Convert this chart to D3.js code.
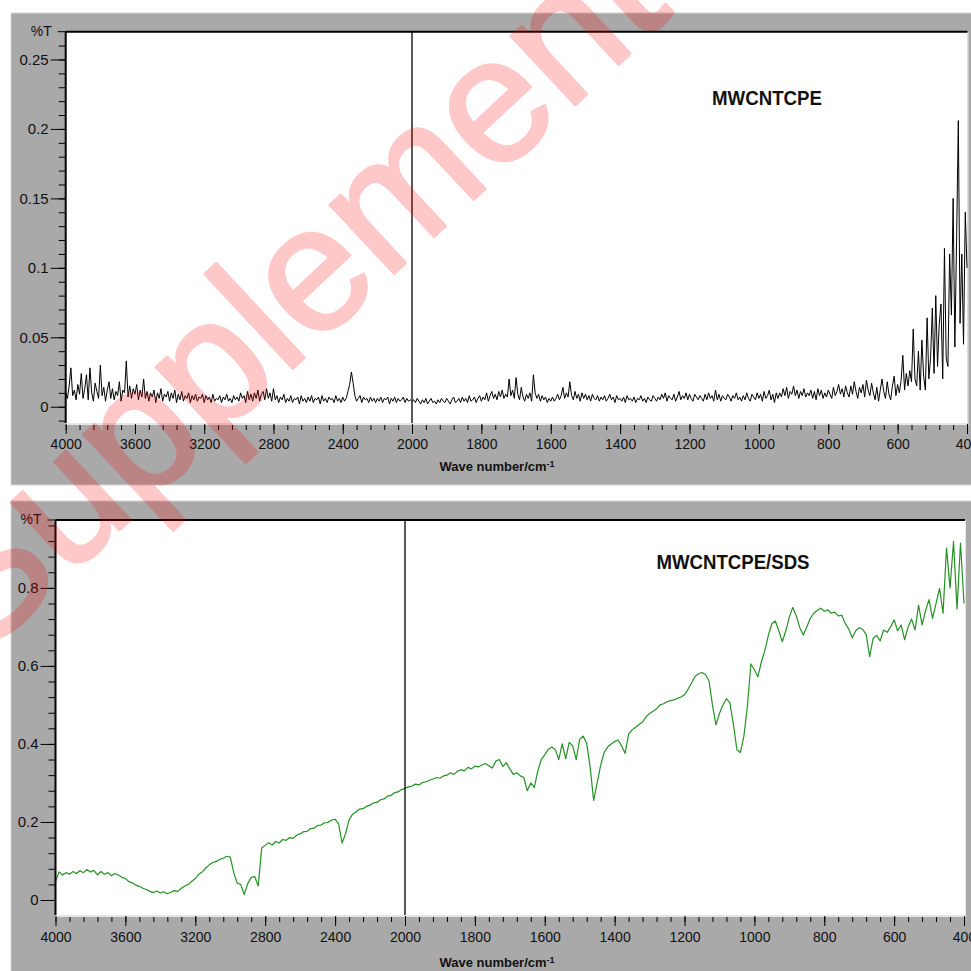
<!DOCTYPE html>
<html>
<head>
<meta charset="utf-8">
<script src="https://cdn.jsdelivr.net/npm/d3@7/dist/d3.min.js"></script>
<style>
body { margin: 0; background: #fff; }
svg { display: block; font-family: "Liberation Sans", Arial, sans-serif; }
</style>
</head>
<body>
<svg id="chart" width="971" height="971"></svg>
<script>
// sampling grids (cm-1)
var wnTopLeft = d3.range(4000, 1999, -10);   // MWCNTCPE, 4000..2000
var wnTopRight = d3.range(1995, 399, -5);    // MWCNTCPE, 1995..400
var wnLeft = d3.range(4000, 1999, -20);      // MWCNTCPE/SDS, 4000..2000
var wnRight = d3.range(1990, 399, -10);      // MWCNTCPE/SDS, 1990..400

// MWCNTCPE, %T (each row = 100 cm-1)
var cpeLeft = [
  0.010,0.006,0.015,0.028,0.008,0.012,0.005,0.016,0.009,0.024,
  0.006,0.013,0.023,0.005,0.028,0.010,0.004,0.017,0.011,0.006,
  0.030,0.008,0.014,0.004,0.012,0.018,0.006,0.013,0.005,0.011,
  0.008,0.018,0.004,0.012,0.010,0.033,0.007,0.015,0.006,0.013,
  0.009,0.016,0.005,0.012,0.007,0.020,0.006,0.011,0.004,0.010,
  0.007,0.012,0.003,0.010,0.006,0.013,0.004,0.009,0.007,0.011,
  0.004,0.010,0.006,0.012,0.003,0.009,0.005,0.011,0.004,0.008,
  0.006,0.010,0.003,0.008,0.005,0.009,0.004,0.007,0.006,0.009,
  0.003,0.008,0.005,0.007,0.003,0.009,0.004,0.006,0.005,0.008,
  0.003,0.007,0.005,0.009,0.004,0.006,0.003,0.008,0.005,0.007,
  0.004,0.010,0.006,0.008,0.003,0.011,0.005,0.009,0.004,0.010,
  0.006,0.012,0.004,0.009,0.011,0.005,0.013,0.006,0.010,0.004,
  0.013,0.005,0.008,0.003,0.007,0.005,0.009,0.003,0.006,0.004,
  0.008,0.003,0.006,0.005,0.007,0.002,0.008,0.004,0.006,0.003,
  0.007,0.004,0.008,0.003,0.006,0.005,0.007,0.002,0.008,0.004,
  0.006,0.003,0.007,0.005,0.006,0.003,0.008,0.004,0.006,0.003,
  0.007,0.004,0.006,0.011,0.016,0.025,0.017,0.008,0.004,0.006,
  0.008,0.003,0.007,0.005,0.006,0.003,0.007,0.004,0.006,0.003,
  0.006,0.004,0.007,0.003,0.006,0.005,0.007,0.002,0.006,0.004,
  0.007,0.003,0.006,0.004,0.005,0.007,0.003,0.006,0.004,0.005,
  0.004
];
// (each row = 50 cm-1)
var cpeRight = [
  0.005,0.003,0.006,0.004,0.002,0.005,0.003,0.006,0.002,0.004,
  0.006,0.003,0.004,0.002,0.005,0.003,0.006,0.004,0.003,0.006,
  0.004,0.002,0.005,0.007,0.003,0.004,0.006,0.003,0.007,0.004,
  0.006,0.003,0.008,0.004,0.005,0.007,0.003,0.006,0.008,0.004,
  0.007,0.005,0.010,0.004,0.008,0.011,0.006,0.009,0.005,0.011,
  0.007,0.012,0.006,0.009,0.007,0.020,0.008,0.012,0.006,0.021,
  0.009,0.005,0.014,0.007,0.004,0.009,0.006,0.010,0.004,0.023,
  0.010,0.006,0.009,0.004,0.008,0.005,0.007,0.003,0.006,0.004,
  0.007,0.004,0.006,0.009,0.005,0.008,0.014,0.006,0.010,0.007,
  0.018,0.008,0.005,0.011,0.006,0.009,0.004,0.010,0.006,0.009,
  0.005,0.008,0.004,0.009,0.006,0.005,0.008,0.004,0.007,0.005,
  0.008,0.004,0.006,0.009,0.005,0.007,0.003,0.008,0.005,0.006,
  0.004,0.007,0.003,0.008,0.005,0.006,0.004,0.007,0.003,0.006,
  0.005,0.008,0.004,0.006,0.003,0.007,0.005,0.004,0.008,0.006,
  0.004,0.007,0.005,0.009,0.006,0.010,0.004,0.008,0.006,0.005,
  0.009,0.004,0.007,0.011,0.005,0.008,0.006,0.010,0.005,0.009,
  0.006,0.004,0.009,0.007,0.005,0.008,0.006,0.004,0.009,0.005,
  0.010,0.006,0.008,0.004,0.012,0.005,0.009,0.004,0.008,0.006,
  0.005,0.009,0.007,0.004,0.008,0.006,0.010,0.005,0.007,0.004,
  0.008,0.005,0.010,0.006,0.004,0.009,0.007,0.005,0.010,0.006,
  0.009,0.004,0.011,0.006,0.008,0.012,0.005,0.009,0.003,0.010,
  0.006,0.010,0.007,0.013,0.008,0.014,0.006,0.011,0.009,0.015,
  0.008,0.012,0.006,0.011,0.008,0.013,0.007,0.010,0.008,0.012,
  0.006,0.011,0.005,0.013,0.008,0.012,0.006,0.010,0.007,0.012,
  0.009,0.006,0.014,0.008,0.011,0.016,0.009,0.013,0.007,0.015,
  0.010,0.007,0.015,0.009,0.018,0.011,0.006,0.014,0.010,0.016,
  0.007,0.019,0.012,0.008,0.017,0.010,0.005,0.014,0.004,0.012,
  0.020,0.011,0.006,0.018,0.009,0.005,0.015,0.022,0.008,0.016,
  0.010,0.019,0.037,0.012,0.024,0.015,0.026,0.018,0.056,0.020,
  0.015,0.040,0.012,0.048,0.022,0.012,0.064,0.020,0.035,0.071,
  0.024,0.080,0.029,0.060,0.074,0.020,0.114,0.035,0.029,0.110,
  0.066,0.150,0.043,0.120,0.206,0.060,0.110,0.045,0.140,0.100
];

// MWCNTCPE/SDS, %T (left rows = 200 cm-1, right rows = 100 cm-1)
var sdsLeft = [
  0.047,0.072,0.064,0.070,0.066,0.073,0.068,0.075,0.070,0.078,
  0.072,0.076,0.064,0.073,0.066,0.070,0.062,0.068,0.064,0.058,
  0.055,0.047,0.044,0.038,0.035,0.030,0.027,0.022,0.019,0.023,
  0.018,0.021,0.016,0.020,0.024,0.022,0.030,0.036,0.040,0.048,
  0.055,0.066,0.072,0.082,0.090,0.096,0.099,0.104,0.107,0.112,
  0.110,0.070,0.043,0.040,0.014,0.042,0.058,0.060,0.036,0.133,
  0.140,0.147,0.141,0.150,0.146,0.155,0.153,0.160,0.158,0.166,
  0.170,0.175,0.176,0.183,0.184,0.191,0.192,0.198,0.199,0.205,
  0.207,0.195,0.146,0.170,0.205,0.220,0.226,0.233,0.234,0.240,
  0.243,0.249,0.250,0.257,0.259,0.266,0.268,0.275,0.277,0.283,
  0.286
];
var sdsRight = [
  0.290,0.292,0.297,0.295,0.301,0.303,0.307,0.310,0.314,0.312,
  0.318,0.320,0.326,0.322,0.330,0.334,0.331,0.340,0.336,0.343,
  0.341,0.346,0.350,0.344,0.338,0.356,0.360,0.342,0.352,0.336,
  0.322,0.326,0.318,0.314,0.280,0.300,0.288,0.330,0.360,0.372,
  0.386,0.392,0.386,0.360,0.400,0.362,0.404,0.395,0.360,0.412,
  0.420,0.402,0.340,0.255,0.300,0.345,0.378,0.392,0.400,0.406,
  0.410,0.395,0.376,0.425,0.436,0.443,0.450,0.456,0.470,0.478,
  0.484,0.490,0.500,0.503,0.508,0.511,0.513,0.517,0.520,0.526,
  0.540,0.556,0.573,0.580,0.583,0.578,0.562,0.500,0.449,0.478,
  0.500,0.516,0.505,0.450,0.385,0.378,0.420,0.496,0.605,0.590,
  0.572,0.610,0.640,0.678,0.708,0.715,0.690,0.662,0.690,0.725,
  0.750,0.728,0.698,0.679,0.700,0.722,0.735,0.742,0.748,0.740,
  0.744,0.735,0.738,0.728,0.730,0.709,0.695,0.672,0.690,0.698,
  0.694,0.680,0.624,0.671,0.678,0.664,0.692,0.686,0.700,0.718,
  0.690,0.705,0.667,0.700,0.720,0.692,0.756,0.705,0.742,0.770,
  0.722,0.760,0.799,0.735,0.902,0.800,0.919,0.746,0.915,0.760
];

var xTickLabels = [4000, 3600, 3200, 2800, 2400, 2000, 1800, 1600, 1400, 1200, 1000, 800, 600, 400];
var topYTicks = [0, 0.05, 0.1, 0.15, 0.2, 0.25];
var bottomYTicks = [0, 0.2, 0.4, 0.6, 0.8];
var sampleNames = ["MWCNTCPE", "MWCNTCPE/SDS"];
var xTitle = "Wave number/cm";
var yTitle = "%T";

var svg = d3.select("#chart");

var panels = [
  { frameTop: 13, frameBottom: 485, frameLeft: 11,
    left: 65.7, x2000: 412, right: 967.5, x400: 967, top: 31.7, bottom: 423,
    yDomain: [-0.0117, 0.27], yTicks: topYTicks, yMinor: d3.range(-0.01, 0.265, 0.01),
    points: d3.zip(wnTopLeft.concat(wnTopRight), cpeLeft.concat(cpeRight)),
    color: "#000", width: 1,
    name: sampleNames[0], nameX: 767, nameY: 98, nameLen: 110,
    labelY: 443.5, titleY: 466 },
  { frameTop: 501, frameBottom: 990, frameLeft: 11,
    left: 55.5, x2000: 405, right: 965, x400: 964, top: 520, bottom: 915,
    yDomain: [-0.0385, 0.974], yTicks: bottomYTicks, yMinor: d3.range(0.04, 0.97, 0.04),
    points: d3.zip(wnLeft.concat(wnRight), sdsLeft.concat(sdsRight)),
    color: "#249224", width: 1.2,
    name: sampleNames[1], nameX: 733, nameY: 562, nameLen: 153,
    labelY: 936.7, titleY: 962 }
];

panels.forEach(function(p) {
  var g = svg.append("g");

  g.append("rect")
    .attr("x", p.frameLeft).attr("y", p.frameTop)
    .attr("width", 990 - p.frameLeft).attr("height", p.frameBottom - p.frameTop)
    .attr("fill", "#a9a9a9").attr("stroke", "#d4d4d4");

  g.append("rect")
    .attr("x", p.left).attr("y", p.top)
    .attr("width", p.right - p.left).attr("height", p.bottom - p.top)
    .attr("fill", "#fff");

  var x = d3.scaleLinear().domain([4000, 2000, 400]).range([p.left, p.x2000, p.x400]);
  var y = d3.scaleLinear().domain(p.yDomain).range([p.bottom, p.top]);

  // light rim bottom / right of plot
  g.append("line").attr("x1", p.left).attr("x2", p.right + 1)
    .attr("y1", p.bottom + 1).attr("y2", p.bottom + 1)
    .attr("stroke", "#e6e6e6").attr("stroke-width", 2);
  g.append("line").attr("x1", p.right + 0.5).attr("x2", p.right + 0.5)
    .attr("y1", p.top).attr("y2", p.bottom)
    .attr("stroke", "#e6e6e6").attr("stroke-width", 1);

  // y axis ticks
  g.append("g").attr("transform", "translate(" + p.left + ",0)")
    .call(d3.axisLeft(y).tickValues(p.yMinor).tickSize(7).tickFormat(""))
    .call(function(a) { a.select(".domain").remove(); });
  g.append("g").attr("transform", "translate(" + p.left + ",0)")
    .call(d3.axisLeft(y).tickValues(p.yTicks).tickSize(15).tickPadding(2).tickFormat(function(d) { return String(d); }))
    .call(function(a) {
      a.select(".domain").remove();
      a.attr("font-family", null).attr("font-size", 15);
      a.selectAll("text").attr("fill", "#111");
    });

  // %T at top
  g.append("line").attr("x1", p.left - 8).attr("x2", p.left)
    .attr("y1", p.top).attr("y2", p.top).attr("stroke", "#000");
  g.append("text").attr("x", p.left - 14).attr("y", p.top)
    .attr("dy", "0.32em").attr("text-anchor", "end")
    .attr("font-size", 14).attr("fill", "#111").text(yTitle);

  // x axis ticks
  var minorX = d3.range(4000, 2000, -80).concat(d3.range(2000, 399, -40));
  g.append("g").attr("transform", "translate(0," + (p.bottom + 2) + ")")
    .call(d3.axisBottom(x).tickValues(minorX).tickSize(5).tickFormat(""))
    .call(function(a) { a.select(".domain").remove(); });
  g.append("g").attr("transform", "translate(0," + (p.bottom + 1) + ")")
    .call(d3.axisBottom(x).tickValues(xTickLabels).tickSize(10).tickPadding(0).tickFormat(function(d) { return String(d); }))
    .call(function(a) {
      a.select(".domain").remove();
      a.attr("font-family", null).attr("font-size", 14);
      a.selectAll("text").attr("y", null).attr("dy", null)
        .attr("transform", "translate(0," + (p.labelY - p.bottom - 1) + ")")
        .attr("dominant-baseline", "central").attr("fill", "#111");
    });

  // spectrum
  var line = d3.line()
    .x(function(d) { return x(d[0]); })
    .y(function(d) { return y(d[1]); });
  g.append("path")
    .datum(p.points)
    .attr("d", line)
    .attr("fill", "none")
    .attr("stroke", p.color)
    .attr("stroke-width", p.width)
    .attr("stroke-linejoin", "round");

  // scale change marker at 2000
  g.append("line").attr("x1", x(2000)).attr("x2", x(2000))
    .attr("y1", p.top).attr("y2", p.bottom)
    .attr("stroke", "#222").attr("stroke-width", 1.5);

  // frame lines
  g.append("line").attr("x1", p.left).attr("x2", p.right)
    .attr("y1", p.top).attr("y2", p.top)
    .attr("stroke", "#000").attr("stroke-width", 2);
  g.append("line").attr("x1", p.left).attr("x2", p.left)
    .attr("y1", p.top).attr("y2", p.bottom)
    .attr("stroke", "#000").attr("stroke-width", 2);

  g.append("text")
    .attr("x", p.nameX).attr("y", p.nameY)
    .attr("dy", "0.36em").attr("text-anchor", "middle")
    .attr("font-size", 20).attr("font-weight", "bold")
    .attr("textLength", p.nameLen).attr("lengthAdjust", "spacingAndGlyphs")
    .attr("fill", "#111")
    .text(p.name);

  var t = g.append("text")
    .attr("x", 497).attr("y", p.titleY)
    .attr("dy", "0.36em").attr("text-anchor", "middle")
    .attr("font-size", 13).attr("font-weight", "bold").attr("fill", "#111");
  t.append("tspan").text(xTitle);
  t.append("tspan").attr("dy", "-0.45em").attr("font-size", 9).text("-1");
});

// watermark
svg.append("g")
  .attr("opacity", 0.21)
  .append("text")
  .attr("transform", "translate(-20,660) rotate(-43)")
  .attr("font-size", 178)
  .attr("fill", "#ff0000")
  .attr("stroke", "#ff0000")
  .attr("stroke-width", 3)
  .attr("stroke-linejoin", "round")
  .text("Supplementary");
</script>
</body>
</html>
